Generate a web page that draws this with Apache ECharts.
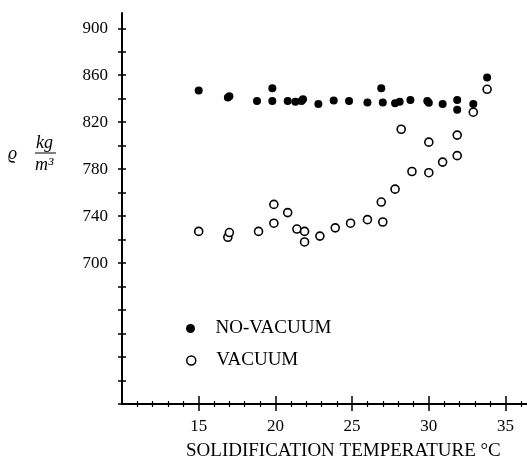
<!DOCTYPE html>
<html>
<head>
<meta charset="utf-8">
<script src="https://cdn.jsdelivr.net/npm/echarts@6/dist/echarts.min.js"></script>
<style>
  html, body { margin: 0; padding: 0; background: #fff; }
  #chart { width: 527px; height: 468px; }
</style>
</head>
<body>
<div id="chart"></div>
<script>
// Density of samples vs. solidification temperature, with and without vacuum
const noVacuumTemp    = [15.0, 16.9, 17.0, 18.8, 19.8, 19.8, 20.8, 21.3, 21.8, 21.7, 22.8, 23.8, 24.8, 26.0, 26.9, 27.0, 27.8, 28.1, 28.8, 29.9, 30.0, 30.9, 31.85, 31.85, 32.9, 33.8];
const noVacuumDensity = [847, 841, 842, 838, 849, 838, 838, 837.5, 839.6, 838, 835.6, 838.4, 838, 836.7, 849, 836.7, 836.2, 837.5, 839, 838, 836.5, 835.6, 839, 830.5, 835.6, 858];

const vacuumTemp    = [15.0, 16.9, 17.0, 18.9, 19.9, 19.9, 20.8, 21.4, 21.9, 21.9, 22.9, 23.9, 24.9, 26.0, 27.0, 26.9, 27.8, 28.2, 28.9, 30.0, 30.0, 30.9, 31.85, 31.85, 32.9, 33.8];
const vacuumDensity = [727, 722, 726, 727, 750, 734, 743, 729, 727, 718, 723, 730, 734, 737, 735, 752, 763, 814, 778, 777, 803, 786, 791.5, 809, 828.5, 848];

const xMajorTicks = [15, 20, 25, 30, 35];
const xMinorTicks = [11, 12, 13, 14, 16, 17, 18, 19, 21, 22, 23, 24, 26, 27, 28, 29, 31, 32, 33, 34, 36];
const yTicks = [580, 600, 620, 640, 660, 680, 700, 720, 740, 760, 780, 800, 820, 840, 860, 880, 900];
const yLabels = [700, 740, 780, 820, 860, 900];

const seriesNames = ['NO-VACUUM', 'VACUUM'];

const X_MIN = 10, X_MAX = 36.4, Y_MIN = 580, Y_MAX = 913;
const FONT = 'Liberation Serif';
const INK = '#000';

const pairs = (xs, ys) => xs.map((x, i) => [x, ys[i]]);

const gridRect = { left: 122, right: 0, top: 13, bottom: 64 };

function xAxisDef(gridIndex, opts) {
  return Object.assign({
    type: 'value', gridIndex, min: X_MIN, max: X_MAX, interval: 5,
    position: 'bottom',
    axisLine: { show: gridIndex === 0, lineStyle: { color: INK, width: 2 } },
    axisLabel: { show: false },
    splitLine: { show: false }
  }, opts);
}
function yAxisDef(gridIndex, opts) {
  return Object.assign({
    type: 'value', gridIndex, min: Y_MIN, max: Y_MAX, interval: 20,
    position: 'left',
    axisLine: { show: gridIndex === 0, lineStyle: { color: INK, width: 2 } },
    axisLabel: { show: false },
    splitLine: { show: false }
  }, opts);
}

const chart = echarts.init(document.getElementById('chart'), null, { renderer: 'canvas' });

chart.setOption({
  backgroundColor: '#fff',
  animation: false,
  textStyle: { fontFamily: FONT, color: INK },
  grid: [0, 1, 2, 3].map(() => Object.assign({ containLabel: false }, gridRect)),
  xAxis: [
    // major ticks below the axis, with labels
    xAxisDef(0, {
      axisTick: { show: true, inside: false, length: 7, customValues: xMajorTicks, lineStyle: { color: INK, width: 1.5 } },
      axisLabel: { show: true, customValues: xMajorTicks, margin: 14, fontFamily: FONT, fontSize: 17, color: INK }
    }),
    // major ticks above the axis
    xAxisDef(1, { axisTick: { show: true, inside: true, length: 8, customValues: xMajorTicks, lineStyle: { color: INK, width: 1.5 } } }),
    // minor ticks, both sides
    xAxisDef(2, { axisTick: { show: true, inside: false, length: 3, customValues: xMinorTicks, lineStyle: { color: INK, width: 1.2 } } }),
    xAxisDef(3, { axisTick: { show: true, inside: true, length: 3, customValues: xMinorTicks, lineStyle: { color: INK, width: 1.2 } } })
  ],
  yAxis: [
    yAxisDef(0, {
      axisTick: { show: true, inside: false, length: 4, customValues: yTicks, lineStyle: { color: INK, width: 1.5 } },
      axisLabel: { show: true, customValues: yLabels, margin: 14, fontFamily: FONT, fontSize: 17, color: INK }
    }),
    yAxisDef(1, { axisTick: { show: true, inside: true, length: 4, customValues: yTicks, lineStyle: { color: INK, width: 1.5 } } }),
    yAxisDef(2, { axisTick: { show: false } }),
    yAxisDef(3, { axisTick: { show: false } })
  ],
  legend: [
    {
      orient: 'vertical', left: 181, top: 314, itemWidth: 40, itemHeight: 9,
      textStyle: { fontFamily: FONT, fontSize: 19, color: INK, padding: [0, 0, 0, 0] },
      data: [{ name: seriesNames[0], icon: 'circle', itemStyle: { color: INK, borderWidth: 0 } }]
    },
    {
      orient: 'vertical', left: 181, top: 346, itemWidth: 40, itemHeight: 9,
      textStyle: { fontFamily: FONT, fontSize: 19, color: INK, padding: [0, 0, 0, 0] },
      data: [{ name: seriesNames[1], icon: 'circle', itemStyle: { color: '#fff', borderColor: INK, borderWidth: 1.5 } }]
    }
  ],
  series: [
    {
      name: seriesNames[1], type: 'scatter', xAxisIndex: 0, yAxisIndex: 0,
      symbol: 'circle', symbolSize: 8,
      itemStyle: { color: '#fff', borderColor: INK, borderWidth: 1.6, opacity: 1 },
      data: pairs(vacuumTemp, vacuumDensity)
    },
    {
      name: seriesNames[0], type: 'scatter', xAxisIndex: 0, yAxisIndex: 0,
      symbol: 'circle', symbolSize: 8,
      itemStyle: { color: INK, opacity: 1 },
      data: pairs(noVacuumTemp, noVacuumDensity)
    }
  ],
  graphic: [
    // x-axis title
    {
      type: 'text', left: 186, top: 442,
      style: { text: 'SOLIDIFICATION TEMPERATURE °C', font: '19px "Liberation Serif"', fill: INK }
    },
    // y-axis quantity: ϱ kg/m³
    {
      type: 'text', left: 8, top: 145,
      style: { text: 'ϱ', font: 'italic 18px "Liberation Serif"', fill: INK }
    },
    {
      type: 'text', left: 36, top: 134,
      style: { text: 'kg', font: 'italic 18px "Liberation Serif"', fill: INK }
    },
    {
      type: 'line', shape: { x1: 35, y1: 153, x2: 56, y2: 153 },
      style: { stroke: INK, lineWidth: 1 }
    },
    {
      type: 'text', left: 35, top: 156,
      style: { text: 'm³', font: 'italic 18px "Liberation Serif"', fill: INK }
    }
  ]
});
</script>
</body>
</html>
